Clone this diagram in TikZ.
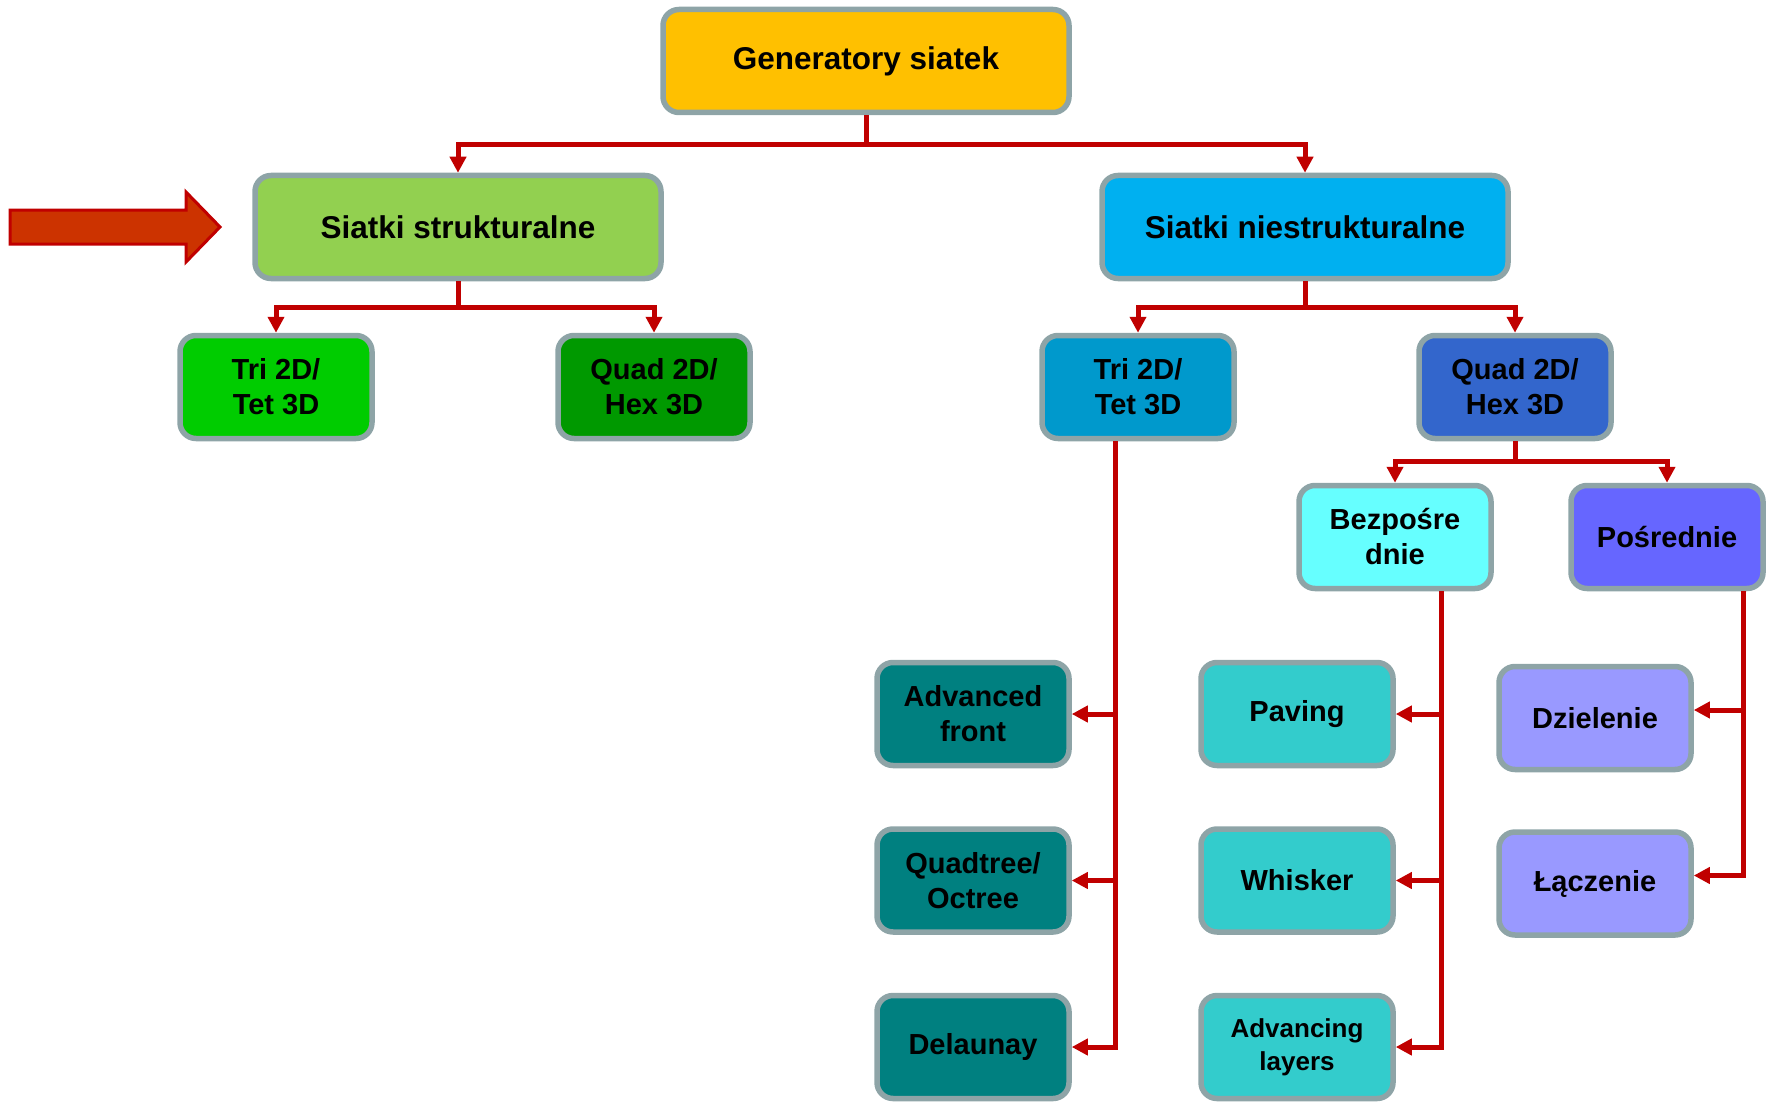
\documentclass[tikz,border=0pt]{standalone}
\usepackage{fontspec}
\setmainfont{Liberation Sans}
\usetikzlibrary{arrows.meta,positioning}

\definecolor{ramka}{HTML}{8EA4A7}
\definecolor{linia}{HTML}{C00000}
\definecolor{strzalka}{HTML}{CC3300}

\begin{document}
\begin{tikzpicture}[
        x=1pt, y=1pt,
        box/.style = {draw=ramka, line width=5.5pt, rounded corners=16pt, align=center, inner sep=0pt,
                      minimum width=192pt, minimum height=103pt, font=\bfseries\fontsize{29}{35}\selectfont}, % Styl bloków
        duzy/.style = {box, minimum width=406pt, font=\bfseries\fontsize{31.5}{38}\selectfont}, % Bloki górne
        pol/.style = {draw=linia, line width=5pt, -{Triangle[length=16pt,width=16pt]}}, % Połączenia
    ]
    \useasboundingbox (0,0) rectangle (1768,-1102);

    % poziom 0 i 1
    \node[duzy, fill={rgb,255:red,255;green,192;blue,0}] (gen) at (866,-61) {Generatory siatek};
    \node[duzy, fill={rgb,255:red,146;green,208;blue,80}] (str) at (458,-227) {Siatki strukturalne};
    \node[duzy, fill={rgb,255:red,0;green,176;blue,240}] (nstr) at (1305,-227) {Siatki niestrukturalne};

    % poziom 2
    \node[box, fill={rgb,255:red,0;green,204;blue,0}] (strTri) at (276,-387) {Tri 2D/\\Tet 3D};
    \node[box, fill={rgb,255:red,0;green,153;blue,0}] (strQuad) at (654,-387) {Quad 2D/\\Hex 3D};
    \node[box, fill={rgb,255:red,0;green,153;blue,204}] (nTri) at (1138,-387) {Tri 2D/\\Tet 3D};
    \node[box, fill={rgb,255:red,51;green,102;blue,204}] (nQuad) at (1515,-387) {Quad 2D/\\Hex 3D};

    % poziom 3
    \node[box, fill={rgb,255:red,102;green,255;blue,255}] (bez) at (1395,-537) {Bezpośre\\dnie};
    \node[box, fill={rgb,255:red,102;green,102;blue,255}] (posr) at (1667,-537) {Pośrednie};

    % liście
    \node[box, fill={rgb,255:red,0;green,128;blue,128}] (adv) at (973,-714) {Advanced\\front};
    \node[box, fill={rgb,255:red,0;green,128;blue,128}, below=58pt of adv] (quad) {Quadtree/\\Octree};
    \node[box, fill={rgb,255:red,0;green,128;blue,128}, below=58pt of quad] (del) {Delaunay};
    \node[box, fill={rgb,255:red,51;green,204;blue,204}] (pav) at (1297,-714) {Paving};
    \node[box, fill={rgb,255:red,51;green,204;blue,204}, below=58pt of pav] (whi) {Whisker};
    \node[box, fill={rgb,255:red,51;green,204;blue,204}, below=58pt of whi, font=\bfseries\fontsize{26}{33}\selectfont] (lay) {Advancing\\layers};
    \node[box, fill={rgb,255:red,153;green,153;blue,255}] (dziel) at (1595,-718) {Dzielenie};
    \node[box, fill={rgb,255:red,153;green,153;blue,255}, below=57pt of dziel] (lacz) {Łączenie};

    % strzałka wskazująca
    \filldraw[fill=strzalka, draw=linia, line width=3pt, line join=miter]
        (10,-210) -- (186,-210) -- (186,-192) -- (220,-227) -- (186,-262) -- (186,-244) -- (10,-244) -- cycle;

    % połączenia
    \draw[pol] (gen.south) -- ++(0,-29) -| (str.north);
    \draw[pol] (gen.south) -- ++(0,-29) -| (nstr.north);
    \draw[pol] (str.south) -- ++(0,-26) -| (strTri.north);
    \draw[pol] (str.south) -- ++(0,-26) -| (strQuad.north);
    \draw[pol] (nstr.south) -- ++(0,-26) -| (nTri.north);
    \draw[pol] (nstr.south) -- ++(0,-26) -| (nQuad.north);
    \draw[pol] (nQuad.south) -- ++(0,-20) -| (bez.north);
    \draw[pol] (nQuad.south) -- ++(0,-20) -| (posr.north);
    \foreach \cel in {adv, quad, del}
        \draw[pol] ([xshift=-23pt]nTri.south) |- (\cel.east);
    \foreach \cel in {pav, whi, lay}
        \draw[pol] ([xshift=46pt]bez.south) |- (\cel.east);
    \foreach \cel in {dziel, lacz}
        \draw[pol] ([xshift=76pt]posr.south) |- ([yshift=8pt]\cel.east);
\end{tikzpicture}
\end{document}
